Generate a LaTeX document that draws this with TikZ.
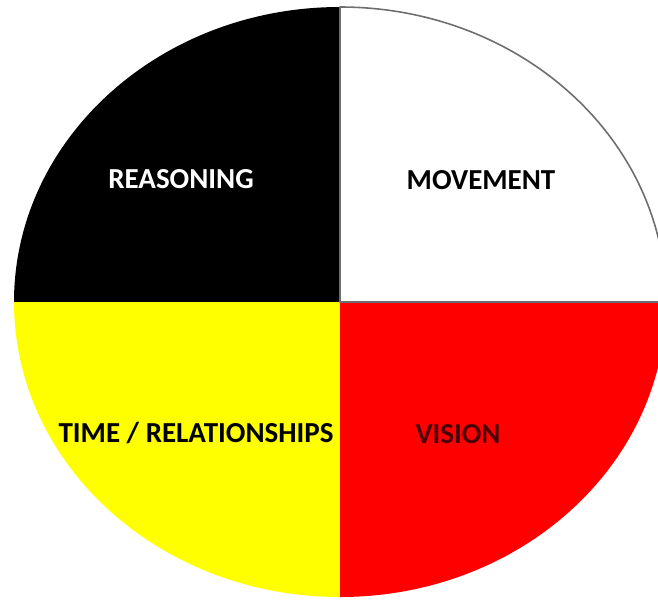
\documentclass[tikz,border=0pt]{standalone}
\usepackage{fontspec}
\setmainfont{Carlito}
\definecolor{wheelYellow}{RGB}{255,255,0}
\definecolor{wheelRed}{RGB}{255,0,0}
\definecolor{wheelEdge}{RGB}{110,110,110}
\definecolor{visionText}{RGB}{75,0,8}

\begin{document}
\begin{tikzpicture}[
  x=0.02cm,
  y=0.02cm,
  quadrant/.style={
    line join=round
  },
  quadlabel/.style={
    font=\bfseries\fontsize{16.5}{19}\selectfont,
    inner sep=0pt
  }
]
  \useasboundingbox (0,0) rectangle (658,603);
  \coordinate (hub) at (340,301);
  % four quarters of the wheel
  \fill[quadrant,black] (hub) -- ++(0,295)
    arc[start angle=90,end angle=180,x radius=326,y radius=295] -- cycle;
  \fill[quadrant,wheelYellow] (hub) -- ++(-326,0)
    arc[start angle=180,end angle=270,x radius=326,y radius=295] -- cycle;
  \fill[quadrant,wheelRed] (hub) -- ++(0,-295)
    arc[start angle=270,end angle=360,x radius=326,y radius=295] -- cycle;
  \draw[quadrant,wheelEdge,line width=0.9pt,fill=white] (hub) -- ++(326,0)
    arc[start angle=0,end angle=90,x radius=326,y radius=295] -- cycle;

  \node[quadlabel,text=white] (reasoning) at (181,424) {REASONING};
  \node[quadlabel,text=black] (movement) at (481,423) {MOVEMENT};
  \node[quadlabel,text=black] (time) at (196,170) {TIME / RELATIONSHIPS};
  \node[quadlabel,text=visionText] (vision) at (458,169) {VISION};
\end{tikzpicture}
\end{document}
